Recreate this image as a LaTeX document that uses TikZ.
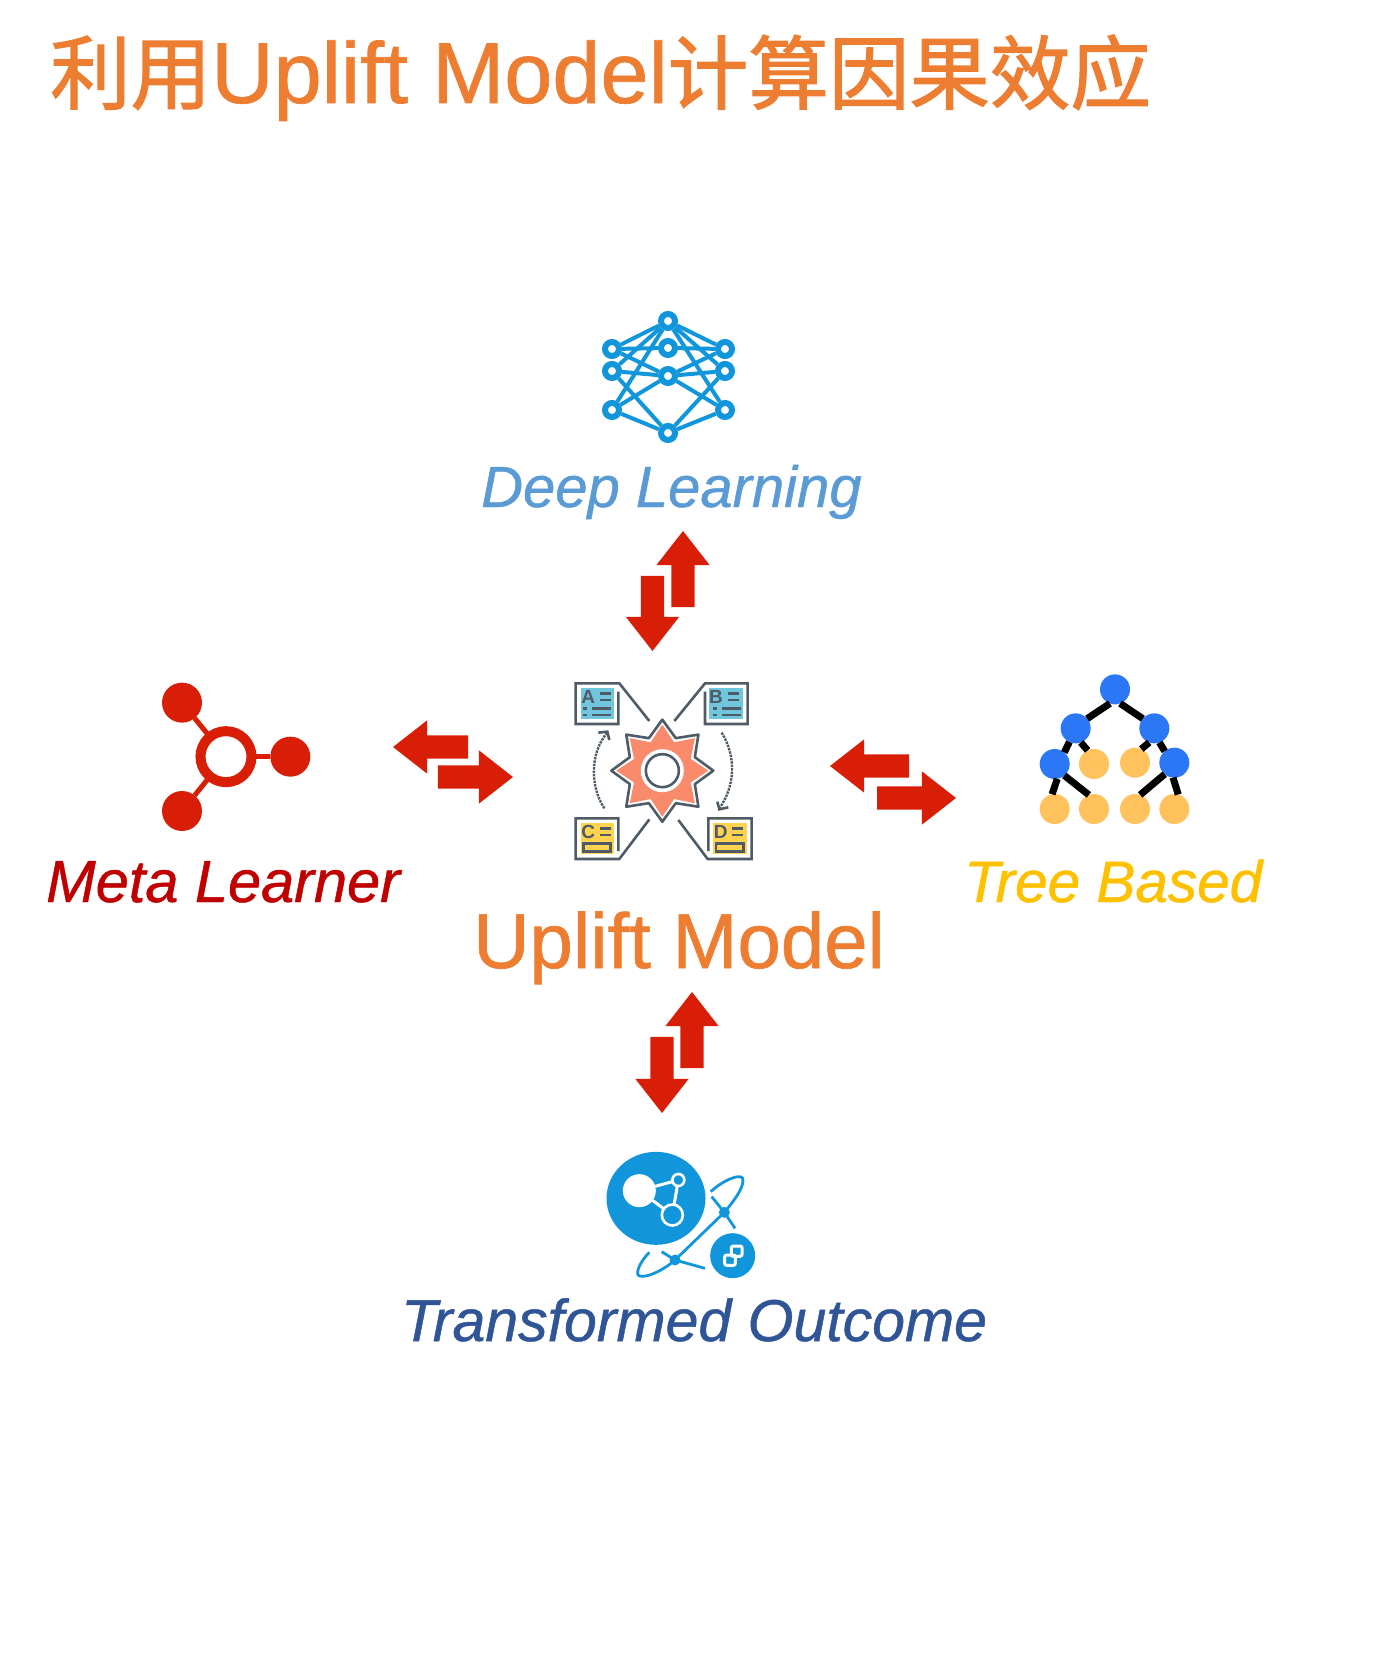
\documentclass[tikz,border=0pt]{standalone}
\usepackage{fontspec}
\setmainfont{Liberation Sans}
\newfontfamily\heavy[FakeBold=0.8]{Liberation Sans}
\newfontfamily\cjk[FakeBold=1.5]{Noto Sans CJK SC}
\usetikzlibrary{positioning,shapes.geometric,shapes.arrows}
\definecolor{upliftorange}{HTML}{ED7D31}
\definecolor{deepblue}{HTML}{5B9BD5}
\definecolor{metared}{HTML}{C00000}
\definecolor{treegold}{HTML}{FFC000}
\definecolor{outcomeblue}{HTML}{2F5597}
\definecolor{arrowred}{HTML}{D81E06}
\definecolor{iconblue}{HTML}{1296DB}
\definecolor{gearslate}{HTML}{4F5B66}
\definecolor{gearsalmon}{HTML}{F98A6C}
\definecolor{gearcyan}{HTML}{70C6DC}
\definecolor{gearyellow}{HTML}{FFD24F}
\definecolor{treeblue}{HTML}{2B77F5}
\definecolor{treeorange}{HTML}{FFC25C}
\tikzset{
	blockarrow/.style={single arrow, fill=arrowred, inner xsep=0pt, inner ysep=11.5pt, outer sep=0pt,
		single arrow head extend=15pt, single arrow tip angle=76,
		single arrow head indent=0pt},
	label/.style={anchor=base west, inner sep=0pt, font=\heavy\itshape\fontsize{58}{58}\selectfont},
	netnode/.style={circle, draw=iconblue, fill=white, line width=6pt, minimum size=14pt, inner sep=0pt},
	netline/.style={iconblue, line width=4pt},
	metadot/.style={circle, fill=arrowred, minimum size=40pt, inner sep=0pt, outer sep=0pt},
	treeblue node/.style={circle, fill=treeblue, minimum size=30pt, inner sep=0pt, outer sep=0pt},
	treeleaf/.style={circle, fill=treeorange, minimum size=30pt, inner sep=0pt, outer sep=0pt},
	treeline/.style={black, line width=7pt},
	gearline/.style={gearslate, line width=2.6pt},
	gearletter/.style={font=\bfseries\fontsize{19}{19}\selectfont, text=gearslate, inner sep=0pt},
	whiteline/.style={white, line width=3pt},
	orbitline/.style={iconblue, line width=2.8pt},
}
\begin{document}
\begin{tikzpicture}[x=1pt,y=-1pt]
	\useasboundingbox (0,0) rectangle (1383,1680);

	% title
	\node[anchor=base west, inner sep=0pt, text=upliftorange, font=\fontsize{80.5}{81}\selectfont] (title) at (50,103)
		{{\cjk 利用}{\heavy\fontsize{86.5}{87}\selectfont Uplift Model}{\cjk 计算因果效应}};

	% labels
	\node[label, text=deepblue] (deeplabel) at (481,507) {Deep Learning};
	\node[label, text=metared, font=\heavy\itshape\fontsize{59.5}{60}\selectfont] (metalabel) at (46,902) {Meta Learner};
	\node[label, text=treegold, font=\heavy\itshape\fontsize{58.5}{58.5}\selectfont] (treelabel) at (964,902) {Tree Based};
	\node[label, text=outcomeblue, font=\heavy\itshape\fontsize{59}{59}\selectfont] (outcomelabel) at (401,1341) {Transformed Outcome};
	\node[anchor=base west, inner sep=0pt, text=upliftorange, font=\heavy\fontsize{78}{78}\selectfont] (upliftlabel) at (473,968) {Uplift Model};

	% arrows
	\node[blockarrow, minimum height=76pt, rotate=90] (topup) at (683,576.5) {};
	\node[blockarrow, minimum height=75pt, rotate=-90] (topdown) at (652.5,606) {};
	\node[blockarrow, minimum height=75pt, rotate=180] (leftback) at (438,747) {};
	\node[blockarrow, minimum height=75pt] (leftfwd) at (468,777) {};
	\node[blockarrow, minimum height=79pt, rotate=180] (rightback) at (877,766) {};
	\node[blockarrow, minimum height=79pt] (rightfwd) at (909,798) {};
	\node[blockarrow, minimum height=76pt, rotate=90] (bottomup) at (692,1037.5) {};
	\node[blockarrow, minimum height=76pt, rotate=-90] (bottomdown) at (662,1067.5) {};

	% deep learning icon
	\foreach \name/\px/\py in {t/668/321,ma/668/348,mb/668/376,b/668/433,
		la/612/349,lb/612/371,lc/612/410,ra/725/349,rb/725/371,rc/725/410}
		\node[netnode] (\name) at (\px,\py) {};
	\foreach \from/\to in {la/t,la/ma,la/mb,lb/t,lb/mb,lb/b,lc/t,lc/mb,lc/b,
		ra/t,ra/ma,ra/mb,rb/t,rb/mb,rb/b,rc/t,rc/mb,rc/b}
		\draw[netline] (\from) -- (\to);

	% meta learner icon
	\begin{scope}[shift={(140,670)},x=1/3*1pt,y=-1/3*1pt]
		\node[circle, draw=arrowred, line width=10pt, minimum size=51pt, inner sep=0pt, outer sep=0pt] (metahub) at (258,260) {};
		\node[metadot] (metaa) at (126,98) {};
		\node[metadot] (metab) at (126,423) {};
		\node[metadot] (metac) at (451,260) {};
		\foreach \dot in {metaa,metab,metac}
			\draw[arrowred, line width=5pt] (metahub) -- (\dot);
	\end{scope}

	% gear icon
	\begin{scope}[shift={(560,650)},x=1/3*1pt,y=-1/3*1pt]
		\fill[gearcyan] (62,115) rectangle (162,207);
		\fill[gearcyan] (448,115) rectangle (548,207);
		\fill[gearyellow] (62,520) rectangle (162,612);
		\fill[gearyellow] (460,520) rectangle (560,612);
		\draw[gearline] (268,213) -- (178,100) -- (47,100) -- (47,222) -- (175,222) -- (175,125);
		\draw[gearline] (343,213) -- (435,100) -- (563,100) -- (563,222) -- (435,222) -- (435,125);
		\draw[gearline] (268,508) -- (178,627) -- (47,627) -- (47,505) -- (175,505) -- (175,603);
		\draw[gearline] (355,510) -- (443,627) -- (575,627) -- (575,505) -- (445,505) -- (445,603);
		\node[gearletter] (lettera) at (85,142) {A};
		\node[gearletter] (letterb) at (468,142) {B};
		\node[gearletter] (letterc) at (85,545) {C};
		\node[gearletter] (letterd) at (482,545) {D};
		\foreach \lx/\ly in {120/130,120/150,505/130,505/150,120/535,120/555,517/535,517/555}
			\draw[gearline] (\lx,\ly) -- ++(33,0);
		\foreach \lx/\ly in {68/175,68/195,458/175,458/195}{
			\draw[gearline] (\lx,\ly) -- ++(12,0);
			\draw[gearline] (\lx+29,\ly) -- ++(55,0);
		}
		\draw[gearline] (70,580) rectangle (152,605);
		\draw[gearline] (468,580) rectangle (550,605);
		\node[star, star points=8, star point ratio=1.45, draw=gearslate, fill=white, line width=2.6pt, line join=round,
			minimum size=102pt, inner sep=0pt] (gearouter) at (307,362) {};
		\node[star, star points=8, star point ratio=1.5, fill=gearsalmon,
			minimum size=92pt, inner sep=0pt] (gearinner) at (307,362) {};
		\node[circle, fill=white, minimum size=43pt, inner sep=0pt] (gearhalo) at (307,362) {};
		\node[circle, draw=gearslate, fill=white, line width=2.6pt, minimum size=33pt, inner sep=0pt] (gearhole) at (307,362) {};
		\draw[gearslate, line width=2.4pt, densely dotted] (485,248) .. controls (530,320) and (525,410) .. (478,475);
		\draw[gearline] (472,455) -- (478,478) -- (505,472);
		\draw[gearslate, line width=2.4pt, densely dotted] (133,475) .. controls (90,410) and (90,310) .. (140,250);
		\draw[gearline] (115,248) -- (142,245) -- (148,270);
	\end{scope}

	% tree icon
	\begin{scope}[shift={(1020,660)},x=1/3*1pt,y=-1/3*1pt]
		\foreach \name/\px/\py in {root/285/88,na/167/205,nb/403/205,nc/104/312,nd/463/308}
			\node[treeblue node] (\name) at (\px,\py) {};
		\foreach \name/\px/\py in {la/222/312,lb/345/308,lc/104/447,ld/222/447,le/345/447,lf/463/447}
			\node[treeleaf] (tree\name) at (\px,\py) {};
		\draw[treeline] (root.-110) -- (na.40);
		\draw[treeline] (root.-70) -- (nb.140);
		\draw[treeline] (na.-115) -- (nc.50);
		\draw[treeline] (na.-70) -- (treela.115);
		\draw[treeline] (nb.-110) -- (treelb.65);
		\draw[treeline] (nb.-70) -- (nd.130);
		\draw[treeline] (nc.-80) -- (treelc.100);
		\draw[treeline] (nc.-50) -- (treeld.110);
		\draw[treeline] (nd.-130) -- (treele.70);
		\draw[treeline] (nd.-95) -- (treelf.75);
	\end{scope}

	% transformed outcome icon
	\begin{scope}[shift={(590,1135)},x=1/3*1pt,y=-1/3*1pt]
		\node[ellipse, fill=iconblue, minimum width=99pt, minimum height=93pt, inner sep=0pt, outer sep=0pt] (outcomedisc) at (198,190) {};
		\node[circle, fill=white, minimum size=33pt, inner sep=0pt, outer sep=0pt] (molea) at (148,167) {};
		\node[circle, draw=white, fill=iconblue, line width=2.6pt, minimum size=12pt, inner sep=0pt, outer sep=0pt] (moleb) at (265,135) {};
		\node[circle, draw=white, fill=iconblue, line width=2.6pt, minimum size=21pt, inner sep=0pt, outer sep=0pt] (molec) at (247,240) {};
		\draw[whiteline] (molea) -- (moleb);
		\draw[whiteline] (moleb) -- (molec);
		\draw[whiteline] (molea) -- (molec);
		\node[circle, fill=iconblue, minimum size=11pt, inner sep=0pt, outer sep=0pt] (orbita) at (403,232) {};
		\node[circle, fill=iconblue, minimum size=11pt, inner sep=0pt, outer sep=0pt] (orbitb) at (255,375) {};
		\draw[orbitline] (362,170) .. controls (400,135) and (450,115) .. (458,130)
			.. controls (465,155) and (430,200) .. (orbita.center) -- (orbitb.center)
			.. controls (210,415) and (150,435) .. (143,418) .. controls (140,400) and (160,370) .. (178,352);
		\draw[orbitline] (365,185) -- (orbita.center) -- (435,280);
		\draw[orbitline] (215,350) -- (orbitb.center) -- (345,400);
		\node[circle, fill=iconblue, minimum size=45pt, inner sep=0pt, outer sep=0pt] (outcomebadge) at (428,362) {};
		\draw[white, line width=3pt, rounded corners=2pt] (404,360) rectangle (436,391);
		\draw[white, line width=3pt, rounded corners=2pt] (424,333) rectangle (456,364);
	\end{scope}
\end{tikzpicture}
\end{document}
